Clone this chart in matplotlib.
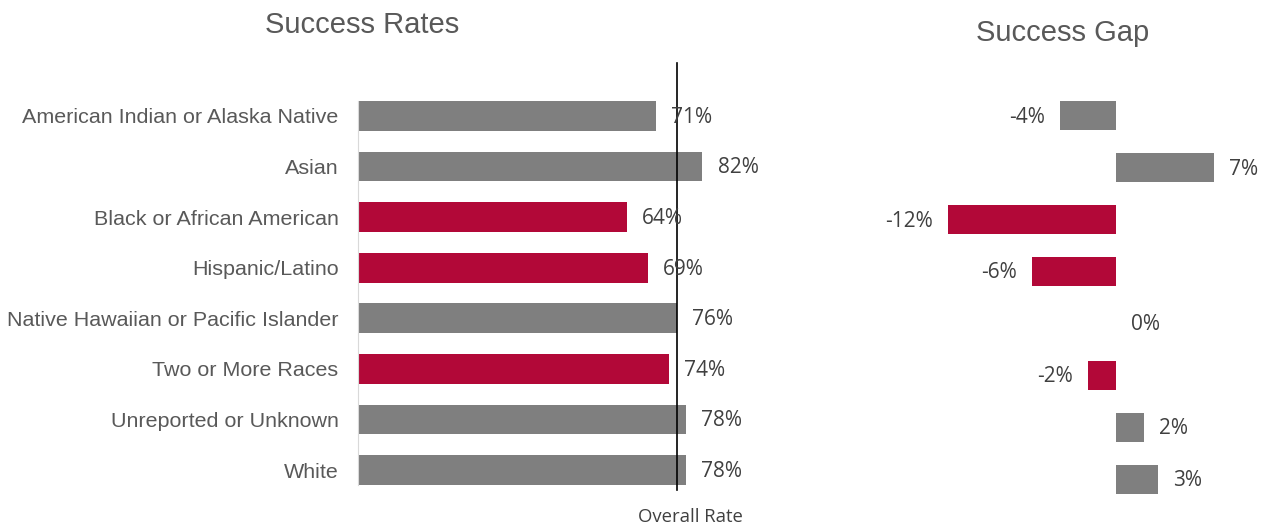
import matplotlib
matplotlib.use("Agg")
from matplotlib import pyplot as plt

# data
groups = ["American Indian or Alaska Native", "Asian", "Black or African American",
          "Hispanic/Latino", "Native Hawaiian or Pacific Islander", "Two or More Races",
          "Unreported or Unknown", "White"]
rates = [71, 82, 64, 69, 76, 74, 78, 78]
gaps = [-4, 7, -12, -6, 0, -2, 2, 3]
highlight = [False, False, True, True, False, True, False, False]
overall_rate = 76

GRAY = "#7F7F7F"
RED = "#B20838"
TXT = "#595959"
VAL = "#404040"
colors = [RED if h else GRAY for h in highlight]

fig = plt.figure(figsize=(12.64, 5.25), dpi=100)
W, H = 1264, 525

# left panel: success rates
ax1 = fig.add_axes([358 / W, 1 - 495.3 / H, 399 / W, 404.6 / H])
y = list(range(len(groups)))
ax1.barh(y, rates, height=0.59, color=colors)
ax1.set_xlim(0, 95)
ax1.set_ylim(7.5, -0.5)
ax1.set_yticks(y)
ax1.set_yticklabels(groups, fontsize=15.45, color=TXT, family="Liberation Sans")
ax1.tick_params(axis="y", length=0, pad=14)
ax1.set_xticks([])
for s in ["top", "right", "bottom"]:
    ax1.spines[s].set_visible(False)
ax1.spines["left"].set_color("#D9D9D9")
ax1.spines["left"].set_bounds(-0.3, 7.3)
for i, v in enumerate(rates):
    ax1.annotate(f"{v}%", (v, i), xytext=(11, -1), textcoords="offset points",
                 va="center", ha="left", fontsize=15, color=VAL, family="Open Sans")
ax1.plot([overall_rate, overall_rate], [-1.05, 7.4], color="black", lw=1.2, clip_on=False)
ax1.annotate("Overall Rate", (overall_rate, 7.92), xytext=(9.5, 0), textcoords="offset points",
             ha="center", va="center", fontsize=13.3, color=VAL, family="Open Sans",
             annotation_clip=False)
fig.text(362 / W, 1 - 25 / H, "Success Rates", ha="center", va="center",
         fontsize=21, color=TXT, family="Liberation Sans")

# right panel: success gap
ax2 = fig.add_axes([878 / W, 1 - 505 / H, 378 / W, 415 / H])
ax2.barh(y, gaps, height=0.56, color=colors)
ax2.set_xlim(-17, 10)
ax2.set_ylim(7.5, -0.5)
ax2.axis("off")
for i, v in enumerate(gaps):
    if v < 0:
        ax2.annotate(f"{v}%", (v, i), xytext=(-11, -1), textcoords="offset points",
                     va="center", ha="right", fontsize=15, color=VAL, family="Open Sans")
    else:
        ax2.annotate(f"{v}%", (v, i), xytext=(11, -1), textcoords="offset points",
                     va="center", ha="left", fontsize=15, color=VAL, family="Open Sans")
fig.text(1063 / W, 1 - 33 / H, "Success Gap", ha="center", va="center",
         fontsize=21, color=TXT, family="Liberation Sans")

fig.savefig("out.png", dpi=100)
